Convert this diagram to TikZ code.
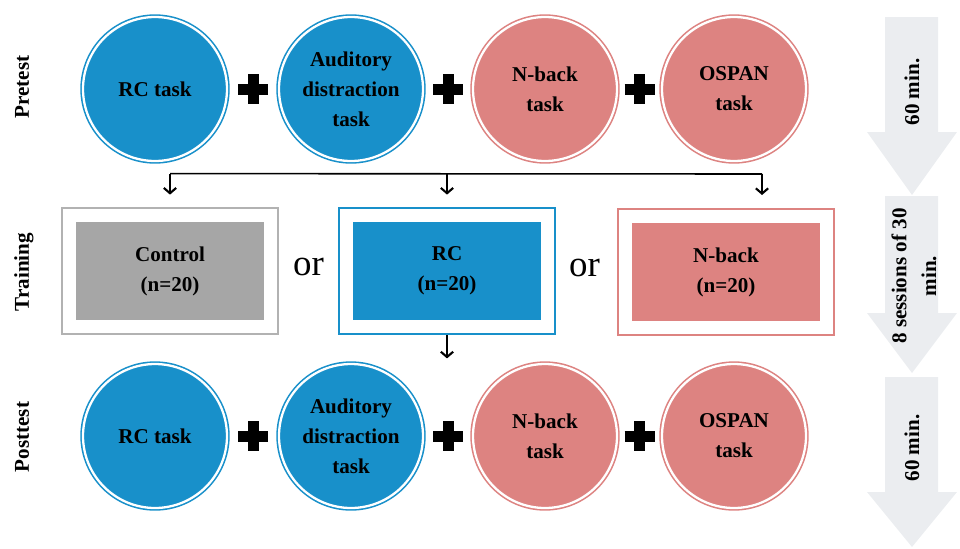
\documentclass[tikz,border=0pt]{standalone}
\usepackage{fontspec}
\setmainfont{Liberation Serif}
\usetikzlibrary{positioning, fit, calc, arrows.meta}

\definecolor{rcblue}{RGB}{24,144,202}
\definecolor{nbpink}{RGB}{221,131,129}
\definecolor{ctrlgray}{RGB}{166,166,166}
\definecolor{framegray}{RGB}{178,178,178}
\definecolor{timegray}{RGB}{235,237,240}

\begin{document}
\begin{tikzpicture}[
		x=0.02cm, y=-0.02cm,
		font=\fontsize{12}{17}\selectfont\bfseries,
		% Style for the task circles
		task/.style={circle, minimum size=2.88cm, inner sep=0pt, align=center,
			line width=0.9pt, double=white, double distance=1.3pt},
		task-rc/.style={task, fill=rcblue, draw=rcblue},
		task-nb/.style={task, fill=nbpink, draw=nbpink},
		% Training groups and their frames
		group/.style={rectangle, minimum width=3.76cm, minimum height=1.96cm, align=center},
		frame/.style={rectangle, inner sep=0.28cm, line width=1.2pt},
		% Connectors
		link/.style={line width=0.9pt},
		arr/.style={link, -{Straight Barb[length=3pt, width=7pt, line width=1.2pt]}},
		plus/.style={line width=0.22cm},
		% Text
		phase label/.style={rotate=90},
		time label/.style={rotate=90, align=center},
		or label/.style={font=\fontsize{21}{25}\selectfont}
		]
		\useasboundingbox (0,0) rectangle (960,548);
		
		% Time arrows on the right
		\fill[timegray] (885,17) -- (938,17) -- (938,132) -- (957,132) -- (912,195) -- (867,132) -- (885,132) -- cycle;
		\fill[timegray] (885,196) -- (938,196) -- (938,313) -- (957,313) -- (912,373) -- (867,313) -- (885,313) -- cycle;
		\fill[timegray] (885,377) -- (938,377) -- (938,492) -- (957,492) -- (912,547) -- (867,492) -- (885,492) -- cycle;
		\node[time label] (t-pre) at (912,92) {60 min.};
		\node[time label] (t-train) at (914,276) {8 sessions of 30\\min.};
		\node[time label] (t-post) at (912,448) {60 min.};
		
		% PRETEST
		\node[phase label] (l-pre) at (22,87) {Pretest};
		\node[task-rc] (pre-rc) at (155,89) {RC task};
		\node[task-rc] (pre-aud) at (351,89) {Auditory\\distraction\\task};
		\node[task-nb] (pre-nb) at (545,89) {N-back\\task};
		\node[task-nb] (pre-os) at (734,89) {OSPAN\\task};
		\coordinate (pre-p1) at ($(pre-rc)!0.5!(pre-aud)$);
		\coordinate (pre-p2) at ($(pre-aud)!0.5!(pre-nb)$);
		\coordinate (pre-p3) at ($(pre-nb)!0.5!(pre-os)$);
		\draw[plus] (pre-p1) +(-15,0) -- +(15,0) +(0,-15) -- +(0,15);
		\draw[plus] (pre-p2) +(-15,0) -- +(15,0) +(0,-15) -- +(0,15);
		\draw[plus] (pre-p3) +(-15,0) -- +(15,0) +(0,-15) -- +(0,15);
		
		% TRAINING
		\node[phase label] (l-train) at (24,272) {Training};
		\node[group, fill=ctrlgray] (ctrl) at (170,271) {Control\\(n=20)};
		\node[group, fill=rcblue] (rc) at (447,271) {RC\\(n=20)};
		\node[group, fill=nbpink] (nb) at (726,272) {N-back\\(n=20)};
		\node[frame, draw=framegray, fit=(ctrl)] (ctrl-frame) {};
		\node[frame, draw=rcblue, fit=(rc)] (rc-frame) {};
		\node[frame, draw=nbpink, fit=(nb)] (nb-frame) {};
		\node[or label] (or-1) at ($(ctrl-frame.east)!0.5!(rc-frame.west)+(0,-4)$) {or};
		\node[or label] (or-2) at ($(rc-frame.east)!0.5!(nb-frame.west)+(-2,-4)$) {or};
		
		% split towards the three groups
		\coordinate (bar-l) at ($(ctrl-frame.north)+(0,-33)$);
		\coordinate (bar-m) at ($(rc-frame.north)+(0,-33)$);
		\coordinate (bar-r) at (762,174);
		\draw[link] (bar-l) -- (bar-r);
		\draw[arr] (bar-l) -- ++(0,21);
		\draw[arr] (bar-m) -- ++(0,21);
		\draw[arr] (bar-r) -- ++(0,21);
		\draw[arr] (rc-frame.south) -- ++(0,23);
		
		% POSTTEST
		\node[phase label] (l-post) at (22,437) {Posttest};
		\node[task-rc] (post-rc) at (155,436) {RC task};
		\node[task-rc] (post-aud) at (351,436) {Auditory\\distraction\\task};
		\node[task-nb] (post-nb) at (545,436) {N-back\\task};
		\node[task-nb] (post-os) at (734,436) {OSPAN\\task};
		\coordinate (post-p1) at ($(post-rc)!0.5!(post-aud)$);
		\coordinate (post-p2) at ($(post-aud)!0.5!(post-nb)$);
		\coordinate (post-p3) at ($(post-nb)!0.5!(post-os)$);
		\draw[plus] (post-p1) +(-15,0) -- +(15,0) +(0,-15) -- +(0,15);
		\draw[plus] (post-p2) +(-15,0) -- +(15,0) +(0,-15) -- +(0,15);
		\draw[plus] (post-p3) +(-15,0) -- +(15,0) +(0,-15) -- +(0,15);
	\end{tikzpicture}
\end{document}
